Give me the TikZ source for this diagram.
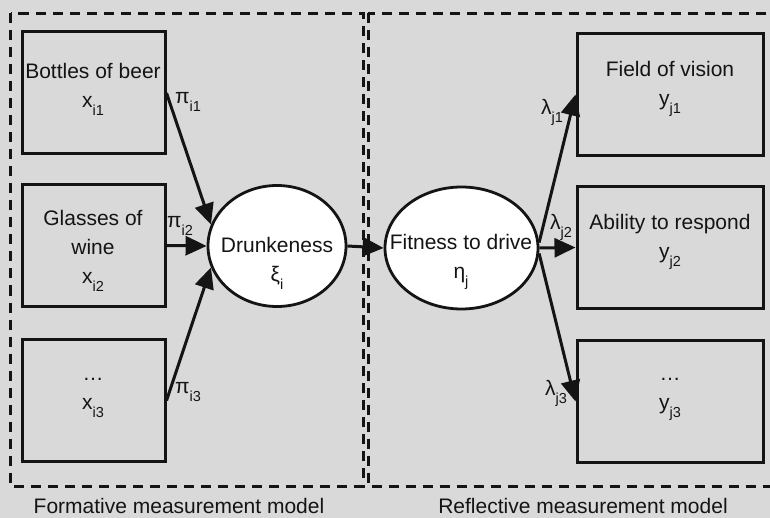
\documentclass[tikz,border=0pt]{standalone}
\usepackage{fontspec}
\setmainfont{Liberation Sans}
\usetikzlibrary{arrows.meta,shapes.geometric}
\definecolor{bgcol}{HTML}{D9D9D9}
\definecolor{ink}{HTML}{141414}
% lowered, smaller index text
\newcommand\lsub[1]{\raisebox{-0.38em}{\fontsize{14.5}{15}\selectfont #1}}
\begin{document}
\begin{tikzpicture}[x=1pt,y=-1pt,
  box/.style={draw=ink, line width=3pt, minimum height=122pt, inner sep=0pt},
  lat/.style={draw=ink, fill=white, line width=2.8pt, ellipse, inner sep=0pt},
  lbl/.style={text=ink, font=\fontsize{21}{29}\selectfont, align=center, inner sep=0pt},
  capt/.style={text=ink, font=\fontsize{21}{24}\selectfont, inner sep=0pt},
  coef/.style={text=ink, font=\fontsize{21}{24}\selectfont, inner sep=0pt},
  arr/.style={draw=ink, line width=3pt, -{Triangle[length=21pt,width=19pt]}},
  region/.style={draw=ink, line width=3pt, dash pattern=on 10pt off 7pt}]
  \fill[bgcol] (0,0) rectangle (770,518);
  \useasboundingbox (0,0) rectangle (770,518);
  \clip (0,0) rectangle (770,518);

  % the two measurement regions
  \draw[region] (10.5,13.5) rectangle (363,486);
  \draw[region] (368,13.5) rectangle (800,486);

  % indicator boxes
  \node[box, minimum width=143pt] (lb1) at (93.5,93) {};
  \node[box, minimum width=143pt] (lb2) at (93.5,245.5) {};
  \node[box, minimum width=143pt] (lb3) at (93.5,400.5) {};
  \node[box, minimum width=186pt] (rb1) at (670,94.5) {};
  \node[box, minimum width=186pt] (rb2) at (670,247.5) {};
  \node[box, minimum width=186pt] (rb3) at (670,401.5) {};

  % latent variables
  \node[lat, minimum width=138pt, minimum height=121pt] (dr) at (277,246) {};
  \node[lat, minimum width=153pt, minimum height=122pt] (fi) at (461.5,248) {};

  % texts
  \node[lbl] (t1) at (93,89) {Bottles of beer\\x\lsub{i1}};
  \node[lbl] (t2) at (93,251) {Glasses of\\wine\\x\lsub{i2}};
  \node[lbl] (t3) at (93,398) {…\\x\lsub{i3}};
  \node[lbl] (u1) at (670,89) {Field of vision\\y\lsub{j1}};
  \node[lbl] (u2) at (670,242) {Ability to respond\\y\lsub{j2}};
  \node[lbl] (u3) at (670,399) {…\\y\lsub{j3}};
  \node[lbl] (td) at (277,263) {Drunkeness\\ξ\lsub{i}};
  \node[lbl] (tf) at (461,262) {Fitness to drive\\η\lsub{j}};

  % paths
  \draw[arr] (lb1.east) -- (dr.162);
  \draw[arr] (lb2.east) -- (dr.west);
  \draw[arr] (lb3.east) -- (dr.198);
  \draw[arr] (dr.east) -- (fi.west);
  \draw[arr] (fi.4) -- (rb1.west);
  \draw[arr] (fi.east) -- (rb2.west);
  \draw[arr] (fi.-4) -- (rb3.west);

  % path coefficients
  \node[coef] (p1) at (188,102) {π\lsub{i1}};
  \node[coef] (p2) at (180,226) {π\lsub{i2}};
  \node[coef] (p3) at (188,392) {π\lsub{i3}};
  \node[coef] (l1) at (552,112) {λ\lsub{j1}};
  \node[coef] (l2) at (561,227) {λ\lsub{j2}};
  \node[coef] (l3) at (556,393) {λ\lsub{j3}};

  % region captions
  \node[capt, anchor=base] (cf) at (179,513) {Formative measurement model};
  \node[capt, anchor=base] (cr) at (583,513) {Reflective measurement model};
\end{tikzpicture}
\end{document}
